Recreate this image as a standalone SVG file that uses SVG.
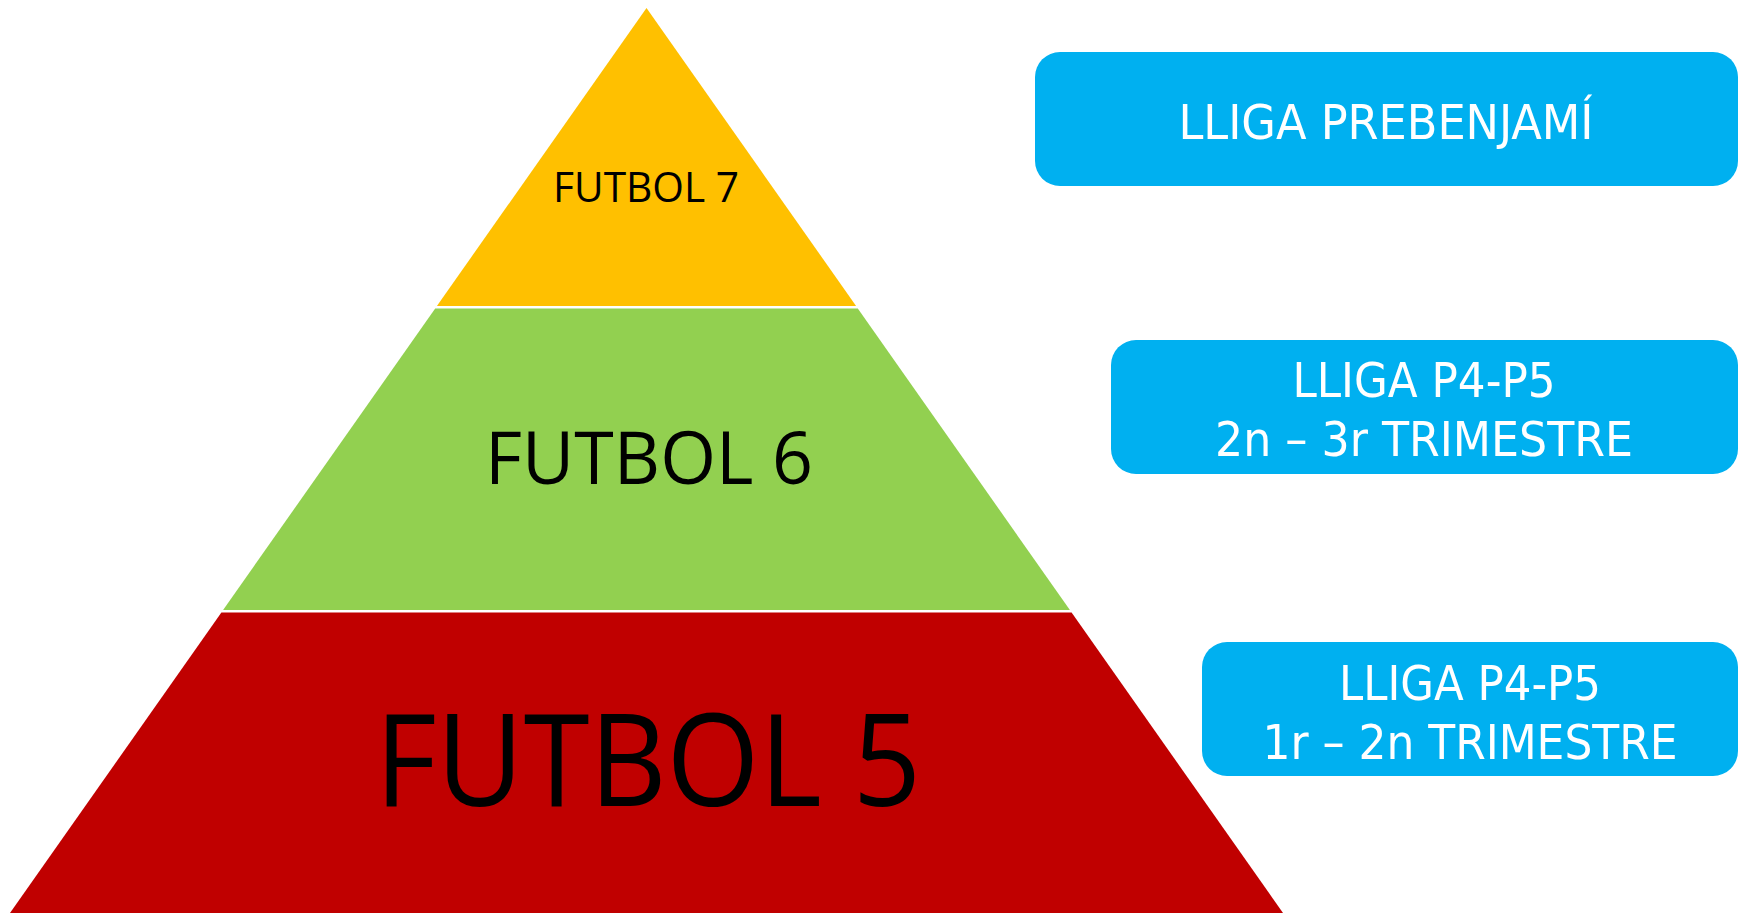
<svg xmlns="http://www.w3.org/2000/svg" width="1740" height="913" viewBox="0 0 1740 913">
<style>
.lvl{font-family:"Open Sans","Noto Sans",sans-serif;fill:#000;text-anchor:middle}
.box{fill:#00B0F0}
.bt{font-family:"DejaVu Sans Condensed","DejaVu Sans",sans-serif;fill:#fff;font-size:48px;text-anchor:middle}
</style>
<rect width="1740" height="913" fill="#fff"/>
<g id="level-futbol7">
<polygon points="646.5,8 856.1,306 436.9,306" fill="#FFC000"/>
<text class="lvl" x="646" y="202" font-size="42" textLength="186" lengthAdjust="spacingAndGlyphs">FUTBOL 7</text>
</g>
<g id="level-futbol6">
<polygon points="435.2,308.5 857.8,308.5 1069.9,610 223.1,610" fill="#92D050"/>
<text class="lvl" x="649" y="484" font-size="74" textLength="328" lengthAdjust="spacingAndGlyphs">FUTBOL 6</text>
</g>
<g id="level-futbol5">
<polygon points="221.4,612.5 1071.6,612.5 1283,913 10,913" fill="#C00000"/>
<text class="lvl" x="648" y="806" font-size="129" textLength="546" lengthAdjust="spacingAndGlyphs">FUTBOL 5</text>
</g>
<g id="box-prebenjami">
<rect class="box" x="1035" y="52" width="703" height="134" rx="25"/>
<text class="bt" x="1386" y="139" textLength="415" lengthAdjust="spacingAndGlyphs">LLIGA PREBENJAMÍ</text>
</g>
<g id="box-p4p5-2n3r">
<rect class="box" x="1111" y="340" width="627" height="134" rx="25"/>
<text class="bt" x="1424" y="397" textLength="263" lengthAdjust="spacingAndGlyphs">LLIGA P4-P5</text>
<text class="bt" x="1424" y="456" textLength="418" lengthAdjust="spacingAndGlyphs">2n – 3r TRIMESTRE</text>
</g>
<g id="box-p4p5-1r2n">
<rect class="box" x="1202" y="642" width="536" height="134" rx="25"/>
<text class="bt" x="1470" y="700" textLength="262" lengthAdjust="spacingAndGlyphs">LLIGA P4-P5</text>
<text class="bt" x="1470" y="759" textLength="415" lengthAdjust="spacingAndGlyphs">1r – 2n TRIMESTRE</text>
</g>
<g id="connectors"></g>
</svg>
